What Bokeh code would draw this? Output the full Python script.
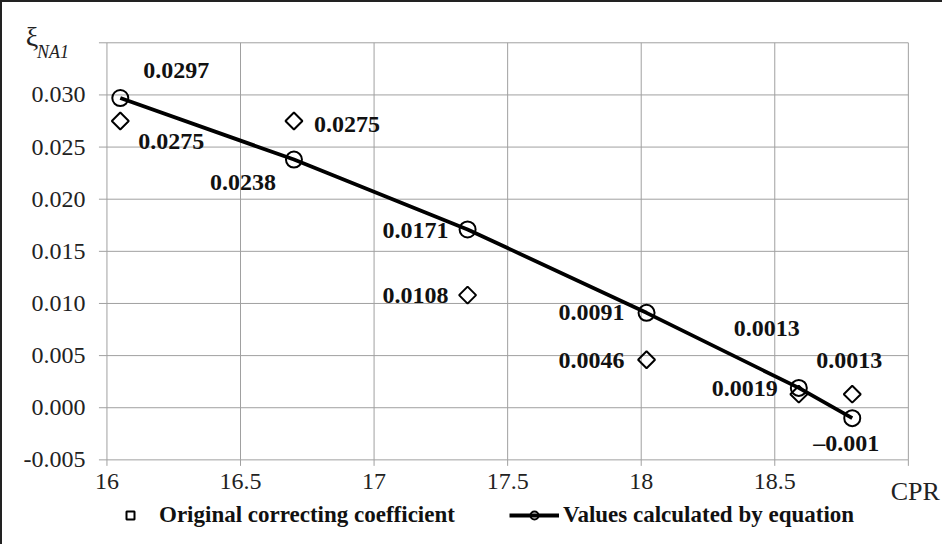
import math
from bokeh.plotting import figure
from bokeh.models import (ColumnDataSource, LabelSet, Label, Legend, LegendItem,
                          FixedTicker, PrintfTickFormatter, Range1d)
from bokeh.core.properties import value
from bokeh.embed import file_html
from bokeh.resources import INLINE

# ---- data ----
cpr = [16.05, 16.70, 17.35, 18.02, 18.59, 18.79]
original = [0.0275, 0.0275, 0.0108, 0.0046, 0.0013, 0.0013]
calculated = [0.0297, 0.0238, 0.0171, 0.0091, 0.0019, -0.0010]
original_labels = ["0.0275", "0.0275", "0.0108", "0.0046", "0.0013", "0.0013"]
calculated_labels = ["0.0297", "0.0238", "0.0171", "0.0091", "0.0019", "\u20130.001"]
x_ticks = [16, 16.5, 17, 17.5, 18, 18.5, 19]
x_tick_labels = ["16", "16.5", "17", "17.5", "18", "18.5", ""]
y_ticks = [-0.005, 0.0, 0.005, 0.010, 0.015, 0.020, 0.025, 0.030, 0.035]
series_names = ["Original correcting coefficient", "Values calculated by equation"]
x_title = "CPR"
y_title = "\u03be"
y_title_sub = "NA1"

# ---- layout (plot area spans the whole figure; axes drawn at fixed spots) ----
PX_X = 266.0          # px per CPR unit
PX_Y = 10350.0        # px per coefficient unit
FRAME_L, FRAME_R, FRAME_T, FRAME_B = 14, 952, 10, 550   # page px
PLOT_L, PLOT_T, PLOT_B = 118, 50, 464                   # page px of 16 / top / bottom
x0, y_top, y_bot = x_ticks[0], y_ticks[-1], y_ticks[0]
x_range = Range1d(x0 - (PLOT_L - FRAME_L) / PX_X, x_ticks[-1] + (FRAME_R - 916) / PX_X)
y_range = Range1d(y_bot - (FRAME_B - PLOT_B) / PX_Y, y_top + (PLOT_T - FRAME_T) / PX_Y)

# ---- label placement (styling, in screen px) ----
orig_dx = [51, 20, -19, -22, -32, -3]
orig_dy = [-21, -4, 0, -1, 66, 34]
orig_align = ["center", "left", "right", "right", "center", "center"]
calc_dx = [56, -18, -19, -22, -21, -6]
calc_dy = [28, -23, -1, 0, -1, -25]
calc_align = ["center", "right", "right", "right", "right", "center"]

SERIF = "Liberation Serif"
GRID = "#a0a0a0"

p = figure(width=942, height=544, output_backend="svg", toolbar_location=None,
           x_range=x_range, y_range=y_range,
           min_border_left=0, min_border_right=0, min_border_top=0,
           min_border_bottom=0, background_fill_color="white",
           border_fill_color="white")
p.styles = {"border-left": "2px solid #222", "border-top": "2px solid #222"}
p.outline_line_color = None
p.grid.visible = False

for ax in (p.xaxis[0], p.yaxis[0]):
    ax.axis_line_color = None
    ax.major_tick_line_color = None
    ax.major_tick_in = 0
    ax.major_tick_out = 0
    ax.minor_tick_line_color = None
    ax.major_label_text_font = SERIF
    ax.major_label_text_font_size = "24px"
    ax.major_label_text_color = "#222222"

p.xaxis[0].ticker = FixedTicker(ticks=x_ticks)
p.xaxis[0].major_label_overrides = {t: l for t, l in zip(x_ticks, x_tick_labels)}
p.xaxis[0].major_label_standoff = -24
p.xaxis[0].fixed_location = y_bot - (501.5 - PLOT_B) / PX_Y
p.yaxis[0].ticker = FixedTicker(ticks=y_ticks)
p.yaxis[0].formatter = PrintfTickFormatter(format="%.3f")
p.yaxis[0].major_label_overrides = {y_top: ""}
p.yaxis[0].major_label_standoff = -58
p.yaxis[0].fixed_location = x0 - (PLOT_L - 39) / PX_X

# grid lines drawn from the tick lists, plus short outer tick marks
p.segment(x0=x_ticks, y0=[y_bot] * len(x_ticks), x1=x_ticks, y1=[y_top] * len(x_ticks),
          line_color=GRID, line_width=1)
p.segment(x0=[x0] * len(y_ticks), y0=y_ticks, x1=[x_ticks[-1]] * len(y_ticks), y1=y_ticks,
          line_color=GRID, line_width=1)
p.ray(x=[x0] * len(y_ticks), y=y_ticks, length=8, length_units="screen",
      angle=math.pi, line_color=GRID, line_width=1)
p.ray(x=x_ticks, y=[y_bot] * len(x_ticks), length=6, length_units="screen",
      angle=-math.pi / 2, line_color=GRID, line_width=1)

src_o = ColumnDataSource(dict(x=cpr, y=original, t=original_labels,
                              dx=orig_dx, dy=orig_dy, al=orig_align))
src_c = ColumnDataSource(dict(x=cpr, y=calculated, t=calculated_labels,
                              dx=calc_dx, dy=calc_dy, al=calc_align))

r_line = p.line("x", "y", source=src_c, line_color="black", line_width=3.8)
r_circ = p.scatter("x", "y", source=src_c, marker="circle", size=16,
                   fill_color=None, line_color="black", line_width=2)
r_diam = p.scatter("x", "y", source=src_o, marker="square", size=12,
                   angle=math.pi / 4, fill_color=None, line_color="black",
                   line_width=2)

for src in (src_o, src_c):
    p.add_layout(LabelSet(x="x", y="y", text="t", source=src,
                          x_offset="dx", y_offset="dy", text_align="al",
                          text_baseline="middle", text_font=value(SERIF),
                          text_font_style="bold", text_font_size="24px",
                          text_color="#111111"))

p.add_layout(Label(x=x_ticks[-1], y=y_bot, x_offset=7, y_offset=-32, text=x_title,
                   text_align="center", text_baseline="middle", text_font=SERIF,
                   text_font_size="26px", text_color="#222222"))
p.add_layout(Label(x=x0, y=y_top, x_offset=-75, y_offset=6, text=y_title,
                   text_align="center", text_baseline="middle", text_font=SERIF,
                   text_font_size="28px", text_color="#222222"))
p.add_layout(Label(x=x0, y=y_top, x_offset=-70, y_offset=-9, text=y_title_sub,
                   text_align="left", text_baseline="middle", text_font=SERIF,
                   text_font_style="italic", text_font_size="18px",
                   text_color="#222222"))

legend = Legend(items=[LegendItem(label=series_names[0], renderers=[r_diam], index=0),
                       LegendItem(label=series_names[1], renderers=[r_line, r_circ])],
                orientation="horizontal", location=(103, 18),
                glyph_width=50, glyph_height=20, label_standoff=4, spacing=54,
                padding=0, margin=0, border_line_color=None,
                background_fill_alpha=0, label_text_font=SERIF,
                label_text_font_style="bold", label_text_font_size="23px",
                label_text_color="#111111")
p.add_layout(legend, "center")

open("out.html", "w").write(file_html(p, INLINE))
